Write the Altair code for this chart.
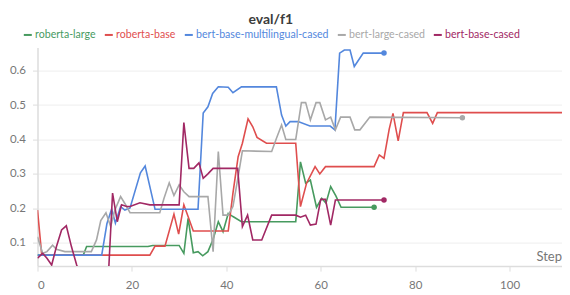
import altair as alt
import pandas as pd

names = ["roberta-large", "roberta-base", "bert-base-multilingual-cased", "bert-large-cased", "bert-base-cased"]
colors = ["#479a5f", "#df4e4e", "#5387dd", "#a8a8a8", "#a12864"]

green_steps = [0, 9.7, 10.4, 23.4, 24.4, 30, 31, 31.9, 33, 34, 35, 36.1, 37.2, 38.3, 39.3, 40.4, 41.4, 43.2, 54.7, 55.7, 56.8, 57.8, 59.1, 60.2, 61.1, 62.1, 63.2, 64.3, 71.3]
green_vals = [0.064, 0.064, 0.089, 0.089, 0.092, 0.092, 0.069, 0.171, 0.071, 0.074, 0.062, 0.074, 0.11, 0.161, 0.132, 0.185, 0.176, 0.161, 0.161, 0.335, 0.273, 0.282, 0.203, 0.229, 0.215, 0.263, 0.236, 0.203, 0.203]

red_steps = [0, 0.9, 23.8, 24.9, 27, 28.9, 29.9, 31, 33, 40.4, 41.4, 42.5, 43.4, 44.6, 45.6, 46.5, 48.5, 54.7, 55.7, 57, 58.8, 59.8, 61, 71.3, 72.4, 73.4, 74.5, 75.3, 76.4, 77.5, 82.5, 83.7, 84.7, 112]
red_vals = [0.195, 0.064, 0.064, 0.09, 0.09, 0.183, 0.125, 0.21, 0.134, 0.134, 0.244, 0.35, 0.389, 0.46, 0.437, 0.406, 0.389, 0.389, 0.205, 0.273, 0.321, 0.30, 0.321, 0.321, 0.355, 0.345, 0.43, 0.476, 0.396, 0.478, 0.478, 0.447, 0.478, 0.478]

blue_steps = [0, 13.6, 14.7, 15.7, 16.5, 17.6, 18.5, 19.6, 21.8, 22.8, 24.9, 34.0, 35.1, 36.1, 37.1, 38.3, 40.4, 41.4, 43.2, 50.6, 51.7, 52.6, 53.5, 55.2, 57.7, 62, 63, 64, 65, 66.2, 67.1, 69, 73.4]
blue_vals = [0.064, 0.064, 0.155, 0.198, 0.157, 0.205, 0.195, 0.201, 0.303, 0.323, 0.197, 0.197, 0.477, 0.495, 0.534, 0.553, 0.552, 0.536, 0.553, 0.553, 0.471, 0.439, 0.452, 0.452, 0.439, 0.439, 0.428, 0.651, 0.66, 0.66, 0.612, 0.651, 0.651]

gray_steps = [0, 1.1, 2, 3.2, 4, 5.8, 11.4, 12.5, 13.4, 14.5, 15.5, 16.4, 17.6, 18.5, 19.6, 25.9, 26.8, 27.9, 28.9, 30, 31, 32.1, 36.1, 37.2, 38.3, 39.3, 40.4, 41.4, 42.5, 43.4, 49.6, 50.6, 51.7, 52.6, 54.7, 55.9, 56.8, 57.8, 59, 59.8, 61, 62.1, 63.1, 64.2, 66.2, 67.2, 68.3, 70.4, 90]
gray_vals = [0.117, 0.069, 0.074, 0.093, 0.081, 0.074, 0.074, 0.108, 0.164, 0.187, 0.147, 0.195, 0.234, 0.214, 0.187, 0.187, 0.229, 0.274, 0.237, 0.268, 0.248, 0.234, 0.234, 0.074, 0.365, 0.18, 0.18, 0.205, 0.292, 0.367, 0.365, 0.403, 0.442, 0.4, 0.4, 0.507, 0.507, 0.457, 0.507, 0.507, 0.457, 0.465, 0.428, 0.465, 0.465, 0.428, 0.428, 0.465, 0.463]

maroon_steps = [0, 1.1, 2, 3, 4, 5.1, 6.1, 7.2, 8.3, 9.3, 15, 15.9, 16.9, 17.8, 18.9, 19.6, 21.7, 23.8, 30, 31, 32.1, 33.1, 34.2, 35.1, 36.1, 37.2, 42.4, 43.4, 44.5, 45.6, 47.5, 49.6, 54.7, 55.7, 56.8, 57.8, 59, 60, 61, 62.1, 63.1, 73.4]
maroon_vals = [0.055, 0.069, 0.055, 0.035, 0.088, 0.137, 0.149, 0.088, 0.035, 0.0, 0.0, 0.244, 0.161, 0.21, 0.205, 0.205, 0.216, 0.21, 0.21, 0.449, 0.316, 0.316, 0.332, 0.287, 0.3, 0.316, 0.316, 0.147, 0.18, 0.108, 0.108, 0.18, 0.18, 0.174, 0.18, 0.151, 0.154, 0.226, 0.226, 0.151, 0.224, 0.224]

x_ticks = [0, 20, 40, 60, 80, 100]
y_ticks = [0.1, 0.2, 0.3, 0.4, 0.5, 0.6]

series = [
    (names[0], green_steps, green_vals),
    (names[1], red_steps, red_vals),
    (names[2], blue_steps, blue_vals),
    (names[3], gray_steps, gray_vals),
    (names[4], maroon_steps, maroon_vals),
]
rows = []
for k, (name, steps, vals) in enumerate(series):
    for i, (s, v) in enumerate(zip(steps, vals)):
        rows.append({"run": name, "step": s, "f1": v, "order": i, "k": k})
df = pd.DataFrame(rows)
last = df.groupby("run", sort=False).tail(1)

label_expr = " : ".join(
    [f"datum.value == '{n}' ? '{c}'" for n, c in zip(names, colors)]
) + " : '#777'"

color = alt.Color(
    "run:N",
    scale=alt.Scale(domain=names, range=colors),
    legend=alt.Legend(
        title=None, orient="none", legendX=-15, legendY=-18,
        direction="horizontal", symbolType="stroke", symbolSize=64,
        symbolStrokeWidth=2, labelFontSize=10.6, labelFont="Lato",
        labelOffset=2, columnPadding=4, padding=0,
        labelColor=alt.ExprRef(label_expr),
    ),
)

x = alt.X(
    "step:Q",
    scale=alt.Scale(domain=[0, 111.1], nice=False, zero=False),
    axis=alt.Axis(
        values=x_ticks, title="Step", grid=False, tickSize=5, labelPadding=8,
        titleAnchor="end", titleAlign="right", titleX=524, titleY=-6,
        titleBaseline="alphabetic", titleFontSize=13, titleFontWeight="normal",
        titleColor="#777",
    ),
)
y = alt.Y(
    "f1:Q",
    scale=alt.Scale(domain=[0.032, 0.667], nice=False, zero=False),
    axis=alt.Axis(values=y_ticks, format=".1f", title=None, tickSize=5, labelPadding=7),
)

lines = alt.Chart(df).mark_line(strokeWidth=1.6, clip=True).encode(
    x=x, y=y, color=color, order="order:Q", detail="run:N"
)
dots = alt.Chart(last).mark_circle(size=30, opacity=1, clip=False).encode(
    x=x, y=y, color=alt.Color("run:N", scale=alt.Scale(domain=names, range=colors), legend=None)
)

chart = (
    alt.layer(lines, dots)
    .properties(
        width=524.5,
        height=218.5,
        title=alt.TitleParams(
            "eval/f1", anchor="middle", frame="group", dx=-29, dy=16, fontSize=14,
            font="Lato", fontWeight="bold", color="#3c3c3c", offset=7.5,
            baseline="alphabetic",
        ),
        autosize=alt.AutoSizeParams(type="none"),
        padding={"left": 29.5, "top": 39.6, "right": 0, "bottom": 25},
    )
    .configure_view(stroke=None)
    .configure_axis(
        labelFont="Lato", labelFontSize=11.5, labelColor="#777", titleFont="Lato",
        gridColor="#eeeeee", domainColor="#dddddd", tickColor="#dddddd",
        domainWidth=1.5,
    )
)

chart.save("out.html", embed_options={"renderer": "svg", "actions": False})
